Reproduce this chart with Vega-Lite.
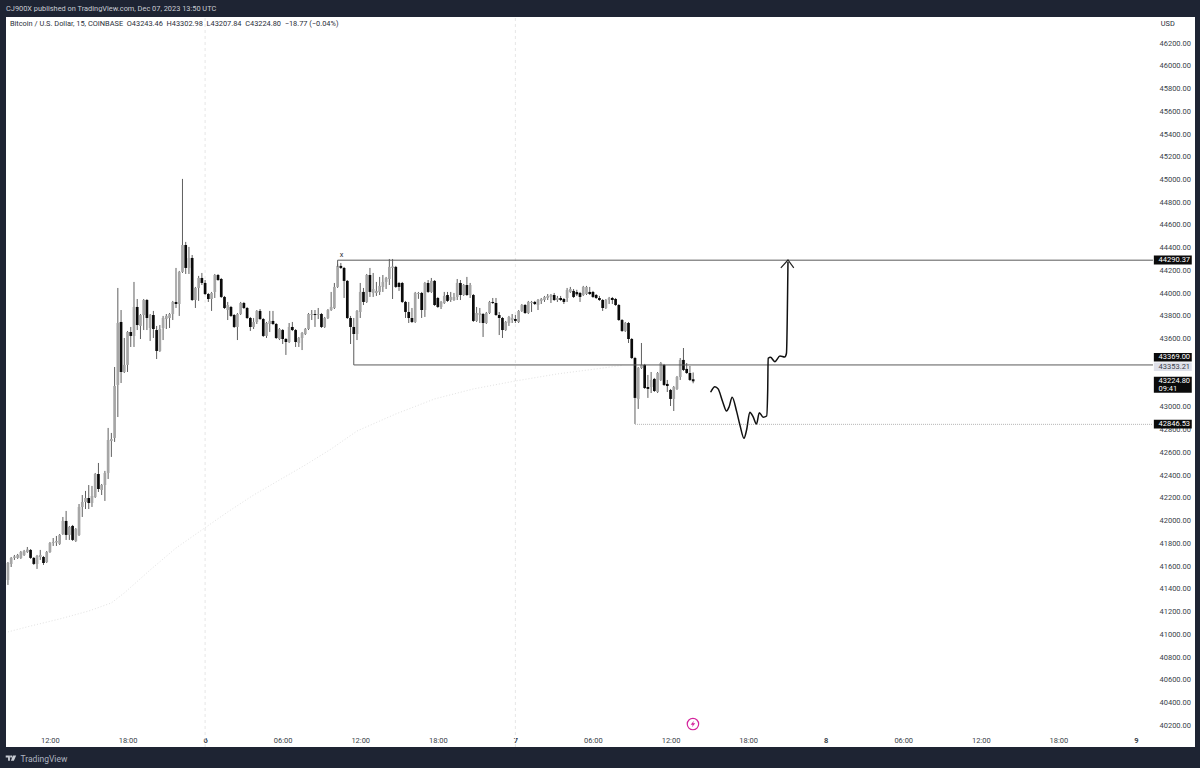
{"$schema":"https://vega.github.io/schema/vega-lite/v6.json","width":1189,"height":730,"autosize":{"type":"none"},"padding":{"left":6,"top":17,"right":5,"bottom":21},"background":"#1e2433","view":{"fill":"#ffffff","stroke":null},
"title":{"text":"CJ900X published on TradingView.com, Dec 07, 2023 13:50 UTC","anchor":"start","frame":"group","offset":4,"fontSize":7.4,"fontWeight":400,"font":"Roboto","color":"#c9ccd3"},
"datasets":{
"candles":[
{"t":"2023-12-05T08:45Z","o":41478,"h":41636,"l":41434,"c":41627},{"t":"2023-12-05T09:00Z","o":41619,"h":41680,"l":41592,"c":41672},{"t":"2023-12-05T09:15Z","o":41672,"h":41698,"l":41654,"c":41685},{"t":"2023-12-05T09:30Z","o":41672,"h":41707,"l":41663,"c":41698},{"t":"2023-12-05T09:45Z","o":41672,"h":41733,"l":41663,"c":41724},{"t":"2023-12-05T10:00Z","o":41698,"h":41742,"l":41689,"c":41733},{"t":"2023-12-05T10:15Z","o":41724,"h":41768,"l":41716,"c":41746},{"t":"2023-12-05T10:30Z","o":41742,"h":41750,"l":41663,"c":41672},{"t":"2023-12-05T10:45Z","o":41672,"h":41680,"l":41610,"c":41619},{"t":"2023-12-05T11:00Z","o":41619,"h":41698,"l":41575,"c":41689},{"t":"2023-12-05T11:15Z","o":41680,"h":41742,"l":41654,"c":41698},{"t":"2023-12-05T11:30Z","o":41680,"h":41689,"l":41610,"c":41627},{"t":"2023-12-05T11:45Z","o":41636,"h":41733,"l":41627,"c":41724},{"t":"2023-12-05T12:00Z","o":41724,"h":41812,"l":41716,"c":41803},{"t":"2023-12-05T12:15Z","o":41803,"h":41847,"l":41777,"c":41812},{"t":"2023-12-05T12:30Z","o":41808,"h":41865,"l":41777,"c":41821},{"t":"2023-12-05T12:45Z","o":41795,"h":41882,"l":41786,"c":41874},{"t":"2023-12-05T13:00Z","o":41882,"h":42032,"l":41874,"c":41997},{"t":"2023-12-05T13:15Z","o":41997,"h":42085,"l":41830,"c":41874},{"t":"2023-12-05T13:30Z","o":41874,"h":41953,"l":41830,"c":41944},{"t":"2023-12-05T13:45Z","o":41953,"h":41962,"l":41821,"c":41830},{"t":"2023-12-05T14:00Z","o":41821,"h":41935,"l":41812,"c":41926},{"t":"2023-12-05T14:15Z","o":41874,"h":42146,"l":41865,"c":42120},{"t":"2023-12-05T14:30Z","o":42120,"h":42225,"l":42032,"c":42164},{"t":"2023-12-05T14:45Z","o":42164,"h":42261,"l":42102,"c":42199},{"t":"2023-12-05T15:00Z","o":42199,"h":42313,"l":42102,"c":42155},{"t":"2023-12-05T15:15Z","o":42155,"h":42305,"l":42120,"c":42217},{"t":"2023-12-05T15:30Z","o":42208,"h":42419,"l":42199,"c":42410},{"t":"2023-12-05T15:45Z","o":42410,"h":42507,"l":42252,"c":42278},{"t":"2023-12-05T16:00Z","o":42269,"h":42322,"l":42225,"c":42313},{"t":"2023-12-05T16:15Z","o":42313,"h":42437,"l":42173,"c":42419},{"t":"2023-12-05T16:30Z","o":42419,"h":42815,"l":42366,"c":42709},{"t":"2023-12-05T16:45Z","o":42700,"h":42771,"l":42560,"c":42718},{"t":"2023-12-05T17:00Z","o":42727,"h":43351,"l":42692,"c":43184},{"t":"2023-12-05T17:15Z","o":43193,"h":44046,"l":42911,"c":43738},{"t":"2023-12-05T17:30Z","o":43747,"h":43852,"l":43210,"c":43307},{"t":"2023-12-05T17:45Z","o":43307,"h":43606,"l":43298,"c":43369},{"t":"2023-12-05T18:00Z","o":43369,"h":43667,"l":43307,"c":43659},{"t":"2023-12-05T18:15Z","o":43659,"h":43703,"l":43527,"c":43624},{"t":"2023-12-05T18:30Z","o":43624,"h":44099,"l":43527,"c":43879},{"t":"2023-12-05T18:45Z","o":43879,"h":43949,"l":43676,"c":43720},{"t":"2023-12-05T19:00Z","o":43712,"h":43817,"l":43597,"c":43808},{"t":"2023-12-05T19:15Z","o":43808,"h":43949,"l":43676,"c":43940},{"t":"2023-12-05T19:30Z","o":43940,"h":43949,"l":43676,"c":43782},{"t":"2023-12-05T19:45Z","o":43694,"h":43817,"l":43580,"c":43808},{"t":"2023-12-05T20:00Z","o":43808,"h":43844,"l":43606,"c":43685},{"t":"2023-12-05T20:15Z","o":43676,"h":43712,"l":43421,"c":43492},{"t":"2023-12-05T20:30Z","o":43492,"h":43720,"l":43483,"c":43685},{"t":"2023-12-05T20:45Z","o":43694,"h":43800,"l":43588,"c":43782},{"t":"2023-12-05T21:00Z","o":43773,"h":43817,"l":43685,"c":43800},{"t":"2023-12-05T21:15Z","o":43782,"h":43826,"l":43694,"c":43817},{"t":"2023-12-05T21:30Z","o":43817,"h":43932,"l":43764,"c":43923},{"t":"2023-12-05T21:45Z","o":43923,"h":44222,"l":43870,"c":43905},{"t":"2023-12-05T22:00Z","o":43905,"h":44196,"l":43800,"c":44187},{"t":"2023-12-05T22:15Z","o":44187,"h":45005,"l":44178,"c":44424},{"t":"2023-12-05T22:30Z","o":44424,"h":44451,"l":44169,"c":44222},{"t":"2023-12-05T22:45Z","o":44222,"h":44407,"l":44169,"c":44310},{"t":"2023-12-05T23:00Z","o":44310,"h":44336,"l":43932,"c":43940},{"t":"2023-12-05T23:15Z","o":43940,"h":44055,"l":43870,"c":44046},{"t":"2023-12-05T23:30Z","o":44046,"h":44152,"l":43932,"c":44134},{"t":"2023-12-05T23:45Z","o":44134,"h":44178,"l":44072,"c":44090},
{"t":"2023-12-06T00:00Z","o":44090,"h":44116,"l":43984,"c":43993},{"t":"2023-12-06T00:15Z","o":43993,"h":44002,"l":43923,"c":43949},{"t":"2023-12-06T00:30Z","o":43949,"h":44011,"l":43844,"c":44002},{"t":"2023-12-06T00:45Z","o":44011,"h":44169,"l":43958,"c":44160},{"t":"2023-12-06T01:00Z","o":44160,"h":44169,"l":44108,"c":44116},{"t":"2023-12-06T01:15Z","o":44125,"h":44134,"l":43958,"c":43967},{"t":"2023-12-06T01:30Z","o":43967,"h":43976,"l":43861,"c":43870},{"t":"2023-12-06T01:45Z","o":43852,"h":43923,"l":43764,"c":43896},{"t":"2023-12-06T02:00Z","o":43879,"h":43888,"l":43791,"c":43800},{"t":"2023-12-06T02:15Z","o":43808,"h":43817,"l":43694,"c":43703},{"t":"2023-12-06T02:30Z","o":43703,"h":43826,"l":43588,"c":43817},{"t":"2023-12-06T02:45Z","o":43817,"h":43923,"l":43808,"c":43914},{"t":"2023-12-06T03:00Z","o":43914,"h":43923,"l":43861,"c":43870},{"t":"2023-12-06T03:15Z","o":43870,"h":43879,"l":43773,"c":43782},{"t":"2023-12-06T03:30Z","o":43782,"h":43791,"l":43668,"c":43703},{"t":"2023-12-06T03:45Z","o":43703,"h":43782,"l":43685,"c":43747},{"t":"2023-12-06T04:00Z","o":43747,"h":43852,"l":43729,"c":43844},{"t":"2023-12-06T04:15Z","o":43844,"h":43861,"l":43764,"c":43773},{"t":"2023-12-06T04:30Z","o":43773,"h":43782,"l":43615,"c":43624},{"t":"2023-12-06T04:45Z","o":43624,"h":43747,"l":43606,"c":43738},{"t":"2023-12-06T05:00Z","o":43729,"h":43844,"l":43659,"c":43756},{"t":"2023-12-06T05:15Z","o":43756,"h":43844,"l":43720,"c":43729},{"t":"2023-12-06T05:30Z","o":43729,"h":43738,"l":43597,"c":43606},{"t":"2023-12-06T05:45Z","o":43597,"h":43694,"l":43588,"c":43685},{"t":"2023-12-06T06:00Z","o":43676,"h":43685,"l":43553,"c":43597},{"t":"2023-12-06T06:15Z","o":43597,"h":43606,"l":43457,"c":43571},{"t":"2023-12-06T06:30Z","o":43571,"h":43738,"l":43562,"c":43703},{"t":"2023-12-06T06:45Z","o":43703,"h":43747,"l":43667,"c":43676},{"t":"2023-12-06T07:00Z","o":43676,"h":43685,"l":43527,"c":43571},{"t":"2023-12-06T07:15Z","o":43562,"h":43615,"l":43527,"c":43606},{"t":"2023-12-06T07:30Z","o":43606,"h":43659,"l":43500,"c":43650},{"t":"2023-12-06T07:45Z","o":43641,"h":43694,"l":43632,"c":43685},{"t":"2023-12-06T08:00Z","o":43685,"h":43826,"l":43676,"c":43817},{"t":"2023-12-06T08:15Z","o":43808,"h":43852,"l":43764,"c":43817},{"t":"2023-12-06T08:30Z","o":43817,"h":43852,"l":43703,"c":43808},{"t":"2023-12-06T08:45Z","o":43808,"h":43870,"l":43773,"c":43817},{"t":"2023-12-06T09:00Z","o":43817,"h":43826,"l":43694,"c":43703},{"t":"2023-12-06T09:15Z","o":43703,"h":43791,"l":43694,"c":43782},{"t":"2023-12-06T09:30Z","o":43782,"h":43861,"l":43773,"c":43852},{"t":"2023-12-06T09:45Z","o":43852,"h":44011,"l":43844,"c":43879},{"t":"2023-12-06T10:00Z","o":43870,"h":44090,"l":43861,"c":44055},{"t":"2023-12-06T10:15Z","o":44055,"h":44258,"l":44046,"c":44240},{"t":"2023-12-06T10:30Z","o":44240,"h":44266,"l":44213,"c":44222},{"t":"2023-12-06T10:45Z","o":44222,"h":44231,"l":43958,"c":44108},{"t":"2023-12-06T11:00Z","o":44108,"h":44116,"l":43773,"c":43782},{"t":"2023-12-06T11:15Z","o":43782,"h":43800,"l":43553,"c":43703},{"t":"2023-12-06T11:30Z","o":43703,"h":43782,"l":43553,"c":43641},{"t":"2023-12-06T11:45Z","o":43641,"h":43852,"l":43588,"c":43844},{"t":"2023-12-06T12:00Z","o":43835,"h":44090,"l":43782,"c":44011},{"t":"2023-12-06T12:15Z","o":44011,"h":44046,"l":43896,"c":43923},{"t":"2023-12-06T12:30Z","o":43923,"h":44169,"l":43914,"c":44160},{"t":"2023-12-06T12:45Z","o":44160,"h":44222,"l":43967,"c":44011},{"t":"2023-12-06T13:00Z","o":44002,"h":44178,"l":43967,"c":44037},{"t":"2023-12-06T13:15Z","o":44002,"h":44099,"l":43976,"c":44020},{"t":"2023-12-06T13:30Z","o":44011,"h":44143,"l":43984,"c":44064},{"t":"2023-12-06T13:45Z","o":44055,"h":44160,"l":44011,"c":44099},{"t":"2023-12-06T14:00Z","o":44099,"h":44143,"l":44037,"c":44134},{"t":"2023-12-06T14:15Z","o":44125,"h":44301,"l":44072,"c":44231},{"t":"2023-12-06T14:30Z","o":44222,"h":44301,"l":43949,"c":44235},{"t":"2023-12-06T14:45Z","o":44231,"h":44240,"l":44046,"c":44055},{"t":"2023-12-06T15:00Z","o":44090,"h":44099,"l":44020,"c":44055},{"t":"2023-12-06T15:15Z","o":44090,"h":44099,"l":43914,"c":43923},{"t":"2023-12-06T15:30Z","o":43923,"h":43932,"l":43782,"c":43835},{"t":"2023-12-06T15:45Z","o":43835,"h":43923,"l":43738,"c":43782},{"t":"2023-12-06T16:00Z","o":43782,"h":43870,"l":43738,"c":43747},{"t":"2023-12-06T16:15Z","o":43747,"h":44011,"l":43738,"c":44002},{"t":"2023-12-06T16:30Z","o":43993,"h":44011,"l":43950,"c":44002},{"t":"2023-12-06T16:45Z","o":44002,"h":44011,"l":43782,"c":43852},{"t":"2023-12-06T17:00Z","o":43852,"h":44099,"l":43791,"c":44090},{"t":"2023-12-06T17:15Z","o":44090,"h":44116,"l":44002,"c":44011},{"t":"2023-12-06T17:30Z","o":44011,"h":44134,"l":44002,"c":44108},{"t":"2023-12-06T17:45Z","o":44108,"h":44116,"l":43888,"c":43896},{"t":"2023-12-06T18:00Z","o":43958,"h":43967,"l":43870,"c":43879},{"t":"2023-12-06T18:15Z","o":43879,"h":43932,"l":43861,"c":43923},{"t":"2023-12-06T18:30Z","o":43914,"h":44011,"l":43905,"c":43976},{"t":"2023-12-06T18:45Z","o":43984,"h":44011,"l":43923,"c":43932},{"t":"2023-12-06T19:00Z","o":43940,"h":44011,"l":43923,"c":43967},{"t":"2023-12-06T19:15Z","o":43940,"h":44002,"l":43932,"c":43967},{"t":"2023-12-06T19:30Z","o":43967,"h":44125,"l":43940,"c":44090},{"t":"2023-12-06T19:45Z","o":44090,"h":44116,"l":43940,"c":43984},{"t":"2023-12-06T20:00Z","o":43984,"h":44081,"l":43976,"c":44072},{"t":"2023-12-06T20:15Z","o":44072,"h":44143,"l":43976,"c":43984},{"t":"2023-12-06T20:30Z","o":43984,"h":44090,"l":43958,"c":44072},{"t":"2023-12-06T20:45Z","o":43984,"h":43993,"l":43747,"c":43756},{"t":"2023-12-06T21:00Z","o":43756,"h":43879,"l":43747,"c":43826},{"t":"2023-12-06T21:15Z","o":43808,"h":43870,"l":43738,"c":43826},{"t":"2023-12-06T21:30Z","o":43817,"h":43826,"l":43615,"c":43738},{"t":"2023-12-06T21:45Z","o":43738,"h":43835,"l":43729,"c":43826},{"t":"2023-12-06T22:00Z","o":43826,"h":43932,"l":43817,"c":43923},{"t":"2023-12-06T22:15Z","o":43923,"h":43958,"l":43905,"c":43914},{"t":"2023-12-06T22:30Z","o":43914,"h":43958,"l":43800,"c":43808},{"t":"2023-12-06T22:45Z","o":43808,"h":43835,"l":43632,"c":43782},{"t":"2023-12-06T23:00Z","o":43782,"h":43791,"l":43606,"c":43676},{"t":"2023-12-06T23:15Z","o":43676,"h":43756,"l":43668,"c":43747},{"t":"2023-12-06T23:30Z","o":43738,"h":43800,"l":43712,"c":43791},{"t":"2023-12-06T23:45Z","o":43764,"h":43817,"l":43738,"c":43782},
{"t":"2023-12-07T00:00Z","o":43773,"h":43808,"l":43738,"c":43756},{"t":"2023-12-07T00:15Z","o":43747,"h":43852,"l":43738,"c":43844},{"t":"2023-12-07T00:30Z","o":43844,"h":43905,"l":43835,"c":43896},{"t":"2023-12-07T00:45Z","o":43896,"h":43905,"l":43817,"c":43826},{"t":"2023-12-07T01:00Z","o":43826,"h":43932,"l":43817,"c":43923},{"t":"2023-12-07T01:15Z","o":43914,"h":43932,"l":43835,"c":43923},{"t":"2023-12-07T01:30Z","o":43923,"h":43932,"l":43896,"c":43905},{"t":"2023-12-07T01:45Z","o":43896,"h":43949,"l":43852,"c":43940},{"t":"2023-12-07T02:00Z","o":43932,"h":43958,"l":43905,"c":43949},{"t":"2023-12-07T02:15Z","o":43940,"h":43976,"l":43923,"c":43967},{"t":"2023-12-07T02:30Z","o":43958,"h":43993,"l":43940,"c":43976},{"t":"2023-12-07T02:45Z","o":43967,"h":43993,"l":43914,"c":43984},{"t":"2023-12-07T03:00Z","o":43984,"h":44002,"l":43932,"c":43940},{"t":"2023-12-07T03:15Z","o":43940,"h":43976,"l":43923,"c":43958},{"t":"2023-12-07T03:30Z","o":43958,"h":43976,"l":43932,"c":43940},{"t":"2023-12-07T03:45Z","o":43949,"h":43958,"l":43905,"c":43923},{"t":"2023-12-07T04:00Z","o":43958,"h":44046,"l":43923,"c":44028},{"t":"2023-12-07T04:15Z","o":44011,"h":44055,"l":44002,"c":44037},{"t":"2023-12-07T04:30Z","o":44020,"h":44037,"l":43958,"c":43967},{"t":"2023-12-07T04:45Z","o":44010,"h":44030,"l":43975,"c":43990},{"t":"2023-12-07T05:00Z","o":44002,"h":44011,"l":43923,"c":43967},{"t":"2023-12-07T05:15Z","o":43984,"h":44064,"l":43976,"c":44055},{"t":"2023-12-07T05:30Z","o":43993,"h":44064,"l":43984,"c":44055},{"t":"2023-12-07T05:45Z","o":44011,"h":44055,"l":43984,"c":43993},{"t":"2023-12-07T06:00Z","o":44011,"h":44020,"l":43958,"c":43967},{"t":"2023-12-07T06:15Z","o":43984,"h":43993,"l":43949,"c":43958},{"t":"2023-12-07T06:30Z","o":43958,"h":43976,"l":43932,"c":43940},{"t":"2023-12-07T06:45Z","o":43940,"h":43949,"l":43844,"c":43870},{"t":"2023-12-07T07:00Z","o":43870,"h":43949,"l":43861,"c":43940},{"t":"2023-12-07T07:15Z","o":43940,"h":43967,"l":43905,"c":43958},{"t":"2023-12-07T07:30Z","o":43958,"h":43967,"l":43905,"c":43940},{"t":"2023-12-07T07:45Z","o":43949,"h":43958,"l":43888,"c":43896},{"t":"2023-12-07T08:00Z","o":43896,"h":43905,"l":43756,"c":43764},{"t":"2023-12-07T08:15Z","o":43764,"h":43773,"l":43659,"c":43668},{"t":"2023-12-07T08:30Z","o":43668,"h":43747,"l":43659,"c":43738},{"t":"2023-12-07T08:45Z","o":43738,"h":43747,"l":43562,"c":43597},{"t":"2023-12-07T09:00Z","o":43597,"h":43606,"l":43421,"c":43430},{"t":"2023-12-07T09:15Z","o":43430,"h":43440,"l":42850,"c":43079},{"t":"2023-12-07T09:30Z","o":43070,"h":43351,"l":42982,"c":43342},{"t":"2023-12-07T09:45Z","o":43342,"h":43562,"l":43334,"c":43369},{"t":"2023-12-07T10:00Z","o":43369,"h":43378,"l":43158,"c":43166},{"t":"2023-12-07T10:15Z","o":43175,"h":43281,"l":43079,"c":43158},{"t":"2023-12-07T10:30Z","o":43175,"h":43307,"l":43122,"c":43237},{"t":"2023-12-07T10:45Z","o":43246,"h":43255,"l":43131,"c":43140},{"t":"2023-12-07T11:00Z","o":43131,"h":43307,"l":43122,"c":43298},{"t":"2023-12-07T11:15Z","o":43237,"h":43395,"l":43228,"c":43386},{"t":"2023-12-07T11:30Z","o":43369,"h":43378,"l":43184,"c":43193},{"t":"2023-12-07T11:45Z","o":43202,"h":43237,"l":43131,"c":43184},{"t":"2023-12-07T12:00Z","o":43149,"h":43158,"l":43008,"c":43070},{"t":"2023-12-07T12:15Z","o":43070,"h":43184,"l":42964,"c":43175},{"t":"2023-12-07T12:30Z","o":43158,"h":43272,"l":43149,"c":43263},{"t":"2023-12-07T12:45Z","o":43263,"h":43430,"l":43237,"c":43413},{"t":"2023-12-07T13:00Z","o":43413,"h":43518,"l":43316,"c":43325},{"t":"2023-12-07T13:15Z","o":43334,"h":43386,"l":43290,"c":43298},{"t":"2023-12-07T13:30Z","o":43298,"h":43360,"l":43228,"c":43237},{"t":"2023-12-07T13:45Z","o":43243,"h":43303,"l":43208,"c":43225}
],
"ma":[{"t":"2023-12-05T08:45Z","p":41021},{"t":"2023-12-05T10:30Z","p":41073},{"t":"2023-12-05T12:45Z","p":41135},{"t":"2023-12-05T15:00Z","p":41205},{"t":"2023-12-05T16:45Z","p":41276},{"t":"2023-12-05T17:45Z","p":41364},{"t":"2023-12-05T19:45Z","p":41566},{"t":"2023-12-05T21:45Z","p":41759},{"t":"2023-12-05T23:45Z","p":41918},{"t":"2023-12-06T01:45Z","p":42076},{"t":"2023-12-06T03:45Z","p":42225},{"t":"2023-12-06T05:45Z","p":42357},{"t":"2023-12-06T07:45Z","p":42489},{"t":"2023-12-06T09:45Z","p":42630},{"t":"2023-12-06T11:45Z","p":42788},{"t":"2023-12-06T14:45Z","p":42938},{"t":"2023-12-06T17:45Z","p":43070},{"t":"2023-12-06T20:45Z","p":43158},{"t":"2023-12-07T00:00Z","p":43228},{"t":"2023-12-07T03:15Z","p":43290},{"t":"2023-12-07T06:15Z","p":43334},{"t":"2023-12-07T08:15Z","p":43365}],
"sessions":[{"t":"2023-12-06T00:00Z","p":40009,"p2":46429},{"t":"2023-12-07T00:00Z","p":40009,"p2":46429}],
"dark":[{"t":"2023-12-06T10:15Z","t2":"2023-12-09T01:19Z","p":44290.37,"p2":44290.37},{"t":"2023-12-06T10:15Z","t2":"2023-12-06T10:15Z","p":44290.37,"p2":44232},{"t":"2023-12-06T11:30Z","t2":"2023-12-09T01:19Z","p":43369,"p2":43369},{"t":"2023-12-06T11:30Z","t2":"2023-12-06T11:30Z","p":43369,"p2":43553}],
"pale":[{"t":"2023-12-07T09:15Z","t2":"2023-12-09T01:19Z","p":42846.53,"p2":42846.53}],
"drawn":[{"t":"2023-12-07T15:06Z","p":43129},{"t":"2023-12-07T15:26Z","p":43178},{"t":"2023-12-07T15:41Z","p":43158},{"t":"2023-12-07T16:02Z","p":43046},{"t":"2023-12-07T16:20Z","p":42964},{"t":"2023-12-07T16:32Z","p":43002},{"t":"2023-12-07T16:46Z","p":43085},{"t":"2023-12-07T17:07Z","p":42958},{"t":"2023-12-07T17:22Z","p":42841},{"t":"2023-12-07T17:41Z","p":42724},{"t":"2023-12-07T17:53Z","p":42797},{"t":"2023-12-07T18:08Z","p":42953},{"t":"2023-12-07T18:23Z","p":42914},{"t":"2023-12-07T18:39Z","p":42850},{"t":"2023-12-07T18:52Z","p":42949},{"t":"2023-12-07T19:10Z","p":42909},{"t":"2023-12-07T19:26Z","p":42920},{"t":"2023-12-07T19:31Z","p":43149},{"t":"2023-12-07T19:33Z","p":43428},{"t":"2023-12-07T19:44Z","p":43436},{"t":"2023-12-07T20:04Z","p":43398},{"t":"2023-12-07T20:28Z","p":43448},{"t":"2023-12-07T20:50Z","p":43439},{"t":"2023-12-07T20:58Z","p":43472},{"t":"2023-12-07T21:05Z","p":44275}],
"arrow":[{"t":"2023-12-07T20:32Z","p":44222},{"t":"2023-12-07T21:05Z","p":44292},{"t":"2023-12-07T21:32Z","p":44222}],
"darkTags":[{"t":"2023-12-09T01:23Z","t2":"2023-12-09T04:19Z","p":44332,"p2":44253},{"t":"2023-12-09T01:23Z","t2":"2023-12-09T04:19Z","p":43474,"p2":43400},{"t":"2023-12-09T01:23Z","t2":"2023-12-09T04:19Z","p":43266,"p2":43125},{"t":"2023-12-09T01:23Z","t2":"2023-12-09T04:19Z","p":42888,"p2":42810}],
"paleTags":[{"t":"2023-12-09T01:23Z","t2":"2023-12-09T04:19Z","p":43391,"p2":43316}],
"darkTagText":[{"t":"2023-12-09T01:45Z","p":44292,"label":"44290.37"},{"t":"2023-12-09T01:45Z","p":43437,"label":"43369.00"},{"t":"2023-12-09T01:45Z","p":43231,"label":"43224.80"},{"t":"2023-12-09T01:45Z","p":43158,"label":"09:41"},{"t":"2023-12-09T01:45Z","p":42850,"label":"42846.53"}],
"paleTagText":[{"t":"2023-12-09T01:45Z","p":43354,"label":"43353.21"}],
"notes":[{"t":"2023-12-05T08:54Z","p":46368,"label":"Bitcoin / U.S. Dollar, 15, COINBASE\u00a0\u00a0O43243.46\u00a0\u00a0H43302.98\u00a0\u00a0L43207.84\u00a0\u00a0C43224.80\u00a0\u00a0−18.77 (−0.04%)"},{"t":"2023-12-09T01:55Z","p":46368,"label":"USD"},{"t":"2023-12-06T10:25Z","p":44336,"label":"x"}],
"logo":[{"t":"2023-12-05T08:59Z","p":39912}],
"flash":[{"t":"2023-12-07T13:44Z","p":40211}]
},
"encoding":{
"x":{"field":"t","type":"temporal","scale":{"type":"utc","domain":[{"year":2023,"month":12,"date":5,"hours":8,"minutes":36,"utc":true},{"year":2023,"month":12,"date":9,"hours":4,"minutes":34,"utc":true}],"nice":false,"padding":0},
"axis":{"orient":"bottom","offset":-14,"domain":false,"ticks":false,"grid":false,"labelPadding":3,"values":[1701777600000,1701799200000,1701820800000,1701842400000,1701864000000,1701885600000,1701907200000,1701928800000,1701950400000,1701972000000,1701993600000,1702015200000,1702036800000,1702058400000,1702080000000],"labelOverlap":false,"labelFlush":false,"labelExpr":"utchours(datum.value)==0?utcFormat(datum.value,'%-d'):utcFormat(datum.value,'%H:%M')","labelFont":"Roboto","labelFontSize":7.5,"labelColor":"#3a3f4a","labelFontWeight":{"condition":{"test":"utchours(datum.value)==0","value":700},"value":400},"title":"TradingView","titleFont":"Roboto","titleFontSize":8.5,"titleFontWeight":400,"titleColor":"#aeb4c0","titleX":14,"titleY":25,"titleAlign":"left","titleBaseline":"middle"}},
"y":{"field":"p","type":"quantitative","scale":{"domain":[40009,46429],"nice":false,"zero":false,"padding":0},
"axis":{"orient":"right","offset":-38,"domain":false,"ticks":false,"grid":false,"labelPadding":2,"values":[40200,40400,40600,40800,41000,41200,41400,41600,41800,42000,42200,42400,42600,42800,43000,43600,43800,44000,44200,44400,44600,44800,45000,45200,45400,45600,45800,46000,46200],"format":".2f","labelFont":"Roboto","labelFontSize":7.5,"labelColor":"#3a3f4a","title":null}}
},
"layer":[
{"data":{"name":"sessions"},"mark":{"type":"rule","color":"#e6e6e6","strokeWidth":1,"strokeDash":[3,3]},"encoding":{"y2":{"field":"p2"}}},
{"data":{"name":"ma"},"mark":{"type":"line","color":"#e2e2e2","strokeWidth":1,"strokeDash":[1,2]}},
{"data":{"name":"candles"},"mark":{"type":"rule","color":"#5f5f5f","strokeWidth":1},"encoding":{"y":{"field":"l","type":"quantitative"},"y2":{"field":"h"}}},
{"data":{"name":"candles"},"mark":{"type":"bar","size":2.7},"encoding":{"y":{"field":"o","type":"quantitative"},"y2":{"field":"c"},"color":{"condition":{"test":"datum.c>=datum.o","value":"#a6a6a6"},"value":"#0a0a0a"}}},
{"data":{"name":"pale"},"mark":{"type":"rule","color":"#b5b5b5","strokeWidth":1,"strokeDash":[1,1]},"encoding":{"x2":{"field":"t2"},"y2":{"field":"p2"}}},
{"data":{"name":"dark"},"mark":{"type":"rule","color":"#5a5a5a","strokeWidth":1},"encoding":{"x2":{"field":"t2"},"y2":{"field":"p2"}}},
{"data":{"name":"drawn"},"mark":{"type":"line","color":"#111111","strokeWidth":1.5,"interpolate":"monotone"}},
{"data":{"name":"arrow"},"mark":{"type":"line","color":"#222222","strokeWidth":1.2}},
{"data":{"name":"darkTags"},"mark":{"type":"rect","color":"#0b0b0b"},"encoding":{"x2":{"field":"t2"},"y2":{"field":"p2"}}},
{"data":{"name":"paleTags"},"mark":{"type":"rect","color":"#dfe1ea"},"encoding":{"x2":{"field":"t2"},"y2":{"field":"p2"}}},
{"data":{"name":"darkTagText"},"mark":{"type":"text","align":"left","baseline":"middle","font":"Roboto","fontSize":7.5,"color":"#ffffff"},"encoding":{"text":{"field":"label"}}},
{"data":{"name":"paleTagText"},"mark":{"type":"text","align":"left","baseline":"middle","font":"Roboto","fontSize":7.5,"color":"#3a3f4a"},"encoding":{"text":{"field":"label"}}},
{"data":{"name":"notes"},"mark":{"type":"text","align":"left","baseline":"middle","font":"Roboto","fontSize":7.4,"color":"#2a2e39"},"encoding":{"text":{"field":"label"}}},
{"data":{"name":"logo"},"mark":{"type":"point","filled":true,"opacity":1,"size":110,"color":"#c8ccd4","shape":"M-1 -0.5 H-0.2 V0.5 H-0.55 V-0.1 H-1 Z M-0.15 -0.5 H0.2 V-0.1 H-0.15 Z M0.35 -0.5 H1 L0.55 0.5 H0 Z"}},
{"data":{"name":"flash"},"mark":{"type":"point","filled":true,"opacity":1,"size":130,"fill":"#ffffff","stroke":"#d4239c","strokeWidth":1.2}},
{"data":{"name":"flash"},"mark":{"type":"point","filled":true,"opacity":1,"size":44,"color":"#d4239c","shape":"M0.3 -1 L-0.7 0.2 H-0.05 L-0.3 1 L0.7 -0.2 H0.05 Z"}}
]}
